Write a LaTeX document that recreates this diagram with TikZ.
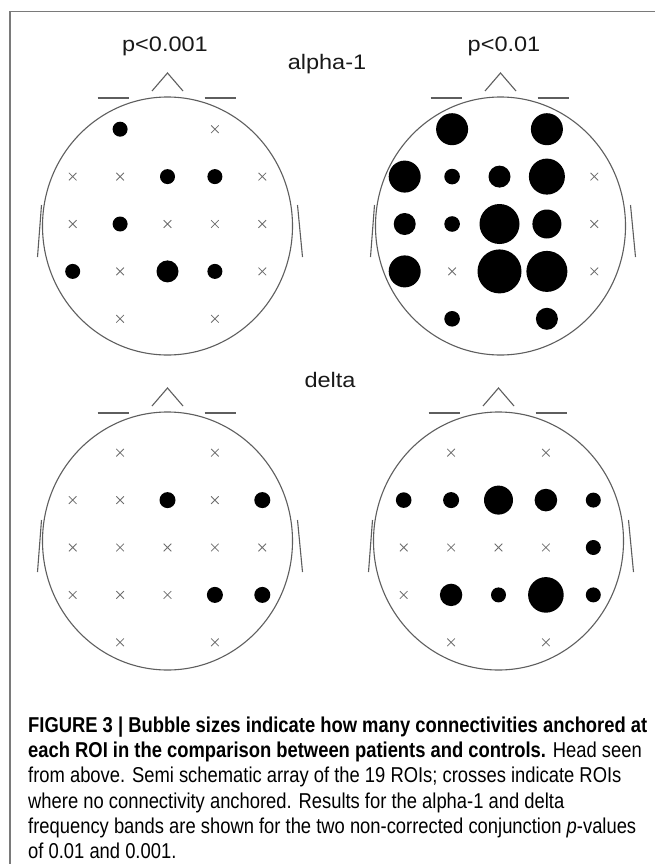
\documentclass[tikz,border=0pt]{standalone}
\usepackage{fontspec}
\setmainfont{Liberation Sans}
\newfontfamily\labfont[FakeStretch=1.12]{Liberation Sans}
\newfontfamily\capfont[FakeStretch=0.855]{Liberation Sans}
\newfontfamily\capbf[FakeStretch=0.855]{Liberation Sans}
\definecolor{headgray}{HTML}{5E5E5E}
\definecolor{crossgray}{HTML}{6E6E6E}
\definecolor{framegray}{HTML}{7A7A7A}
\newcommand\headat[2]{%
  \begin{scope}[shift={(#1,#2)}]
    \draw[headst] (0,0) ellipse[x radius=125pt,y radius=129pt];
    \draw[headst] (-15.5,-135) -- (0,-153) -- (15.5,-135);
    \draw[headst] (-70,-128) -- (-39,-128) (37,-128) -- (68,-128);
    \draw[headst] (-126,-21) -- (-130,31) (130,-21) -- (135,31);
  \end{scope}}
\newcommand\roi[3]{%
  \ifdim #3pt=0pt
    \draw[crossst,shift={({(#1-2)*47.4},{(#2-2)*47.4})}] (-3.8,-3.8) -- (3.8,3.8) (-3.8,3.8) -- (3.8,-3.8);
  \else
    \fill[dotst] ({(#1-2)*47.4},{(#2-2)*47.4}) circle[radius=#3pt];
  \fi}
\begin{document}
\begin{tikzpicture}[x=1pt,y=-1pt,
  headst/.style={draw=headgray,line width=1.1pt},
  crossst/.style={draw=crossgray,line width=0.8pt},
  dotst/.style={fill=black},
  framest/.style={draw=framegray,line width=1.3pt},
  labst/.style={font=\labfont\fontsize{21}{25}\selectfont,text=black!90,inner sep=0pt,anchor=base},
  capst/.style={font=\capfont\fontsize{21.5}{25}\selectfont,inner sep=0pt,anchor=base west}]
\useasboundingbox (0,0) rectangle (655,864);
\fill[white] (0,0) rectangle (655,864);
\draw[framest] (10,866) -- (10,11.5) -- (657,11.5);

% labels
\node[labst] (p1) at (165,52) {p<0.001};
\node[labst] (p2) at (504,52) {p<0.01};
\node[labst] (alpha) at (327,70) {alpha-1};
\node[labst] (delta) at (330,387) {delta};

% heads
\headat{167.5}{226}
\headat{500.5}{226}
\headat{167.5}{541}
\headat{498.5}{541}

% top-left: alpha-1, p<0.001
\begin{scope}[shift={(167.5,224)}]
\roi{1}{0}{7.5}\roi{3}{0}{0}
\roi{0}{1}{0}\roi{1}{1}{0}\roi{2}{1}{7.5}\roi{3}{1}{7.5}\roi{4}{1}{0}
\roi{0}{2}{0}\roi{1}{2}{7.5}\roi{2}{2}{0}\roi{3}{2}{0}\roi{4}{2}{0}
\roi{0}{3}{7.5}\roi{1}{3}{0}\roi{2}{3}{11}\roi{3}{3}{7.5}\roi{4}{3}{0}
\roi{1}{4}{0}\roi{3}{4}{0}
\end{scope}

% top-right: alpha-1, p<0.01
\begin{scope}[shift={(499.5,224)}]
\roi{1}{0}{16}\roi{3}{0}{16}
\roi{0}{1}{16}\roi{1}{1}{7.8}\roi{2}{1}{11}\roi{3}{1}{18}\roi{4}{1}{0}
\roi{0}{2}{11}\roi{1}{2}{7.8}\roi{2}{2}{20}\roi{3}{2}{14.5}\roi{4}{2}{0}
\roi{0}{3}{16}\roi{1}{3}{0}\roi{2}{3}{22}\roi{3}{3}{20.5}\roi{4}{3}{0}
\roi{1}{4}{7.8}\roi{3}{4}{11}
\end{scope}

% bottom-left: delta, p<0.001
\begin{scope}[shift={(167.5,547.5)}]
\roi{1}{0}{0}\roi{3}{0}{0}
\roi{0}{1}{0}\roi{1}{1}{0}\roi{2}{1}{8}\roi{3}{1}{0}\roi{4}{1}{8}
\roi{0}{2}{0}\roi{1}{2}{0}\roi{2}{2}{0}\roi{3}{2}{0}\roi{4}{2}{0}
\roi{0}{3}{0}\roi{1}{3}{0}\roi{2}{3}{0}\roi{3}{3}{8}\roi{4}{3}{8}
\roi{1}{4}{0}\roi{3}{4}{0}
\end{scope}

% bottom-right: delta, p<0.01
\begin{scope}[shift={(498.5,547.5)}]
\roi{1}{0}{0}\roi{3}{0}{0}
\roi{0}{1}{7.8}\roi{1}{1}{8}\roi{2}{1}{14.5}\roi{3}{1}{11.3}\roi{4}{1}{7.5}
\roi{0}{2}{0}\roi{1}{2}{0}\roi{2}{2}{0}\roi{3}{2}{0}\roi{4}{2}{7.5}
\roi{0}{3}{0}\roi{1}{3}{11.2}\roi{2}{3}{7.5}\roi{3}{3}{17.8}\roi{4}{3}{7.5}
\roi{1}{4}{0}\roi{3}{4}{0}
\end{scope}

% caption
\node[capst] (c1) at (28,732) {\capbf\bfseries FIGURE 3 | Bubble sizes indicate how many connectivities anchored at};
\node[capst] (c2) at (28,757.3) {{\capbf\bfseries each ROI in the comparison between patients and controls.} Head seen};
\node[capst] (c3) at (28,782.6) {from above. Semi schematic array of the 19 ROIs; crosses indicate ROIs};
\node[capst] (c4) at (28,808) {where no connectivity anchored. Results for the alpha-1 and delta};
\node[capst] (c5) at (28,833.3) {frequency bands are shown for the two non-corrected conjunction \textit{p}-values};
\node[capst] (c6) at (28,858.6) {of 0.01 and 0.001.};
\end{tikzpicture}
\end{document}
